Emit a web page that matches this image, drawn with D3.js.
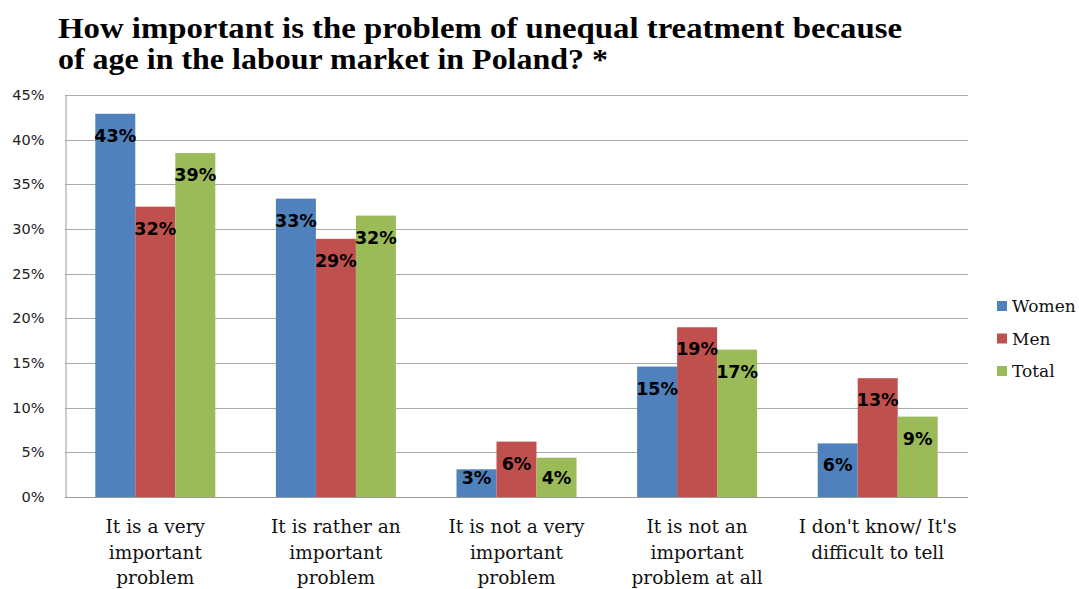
<!DOCTYPE html>
<html>
<head>
<meta charset="utf-8">
<script src="https://cdn.jsdelivr.net/npm/d3@7"></script>
<style>
  html, body { margin: 0; padding: 0; background: #ffffff; }
  svg { display: block; }
</style>
</head>
<body>
<svg id="chart" width="1079" height="589"></svg>
<script>
// ---- data ----
const categories = [
  ["It is a very", "important", "problem"],
  ["It is rather an", "important", "problem"],
  ["It is not a very", "important", "problem"],
  ["It is not an", "important", "problem at all"],
  ["I don't know/ It's", "difficult to tell"]
];
const seriesNames = ["Women", "Men", "Total"];
const women = [42.9, 33.4, 3.1, 14.6, 6.0];
const men   = [32.5, 28.9, 6.2, 19.0, 13.3];
const total = [38.5, 31.5, 4.4, 16.5, 9.0];
const labelsWomen = ["43%", "33%", "3%", "15%", "6%"];
const labelsMen   = ["32%", "29%", "6%", "19%", "13%"];
const labelsTotal = ["39%", "32%", "4%", "17%", "9%"];
const yTicks = [0, 5, 10, 15, 20, 25, 30, 35, 40, 45];
const colors = ["#4F81BD", "#C0504D", "#9BBB59"];
const titleLines = [
  "How important is the problem of unequal treatment because",
  "of age in the labour market in Poland? *"
];

const seriesValues = [women, men, total];
const seriesLabels = [labelsWomen, labelsMen, labelsTotal];

// ---- layout ----
const svg = d3.select("#chart");
const plot = { left: 65, right: 968, top: 95, bottom: 497 };

const x0 = d3.scaleBand()
  .domain(d3.range(categories.length))
  .range([plot.left, plot.right])
  .paddingInner(0.3355)
  .paddingOuter(0.16775);
const x1 = d3.scaleBand()
  .domain(d3.range(seriesNames.length))
  .range([0, x0.bandwidth()]);
const y = d3.scaleLinear().domain([0, 45]).range([plot.bottom, plot.top]);

// gridlines
svg.append("g")
  .selectAll("line")
  .data(yTicks.filter(d => d > 0))
  .join("line")
  .attr("x1", plot.left).attr("x2", plot.right)
  .attr("y1", d => Math.round(y(d)) + 0.5).attr("y2", d => Math.round(y(d)) + 0.5)
  .attr("stroke", "#acacac").attr("stroke-width", 1);

// y axis
const yAxis = d3.axisLeft(y).tickValues(yTicks).tickSize(0).tickPadding(21)
  .tickFormat(d => d + "%");
const gy = svg.append("g").attr("transform", `translate(${plot.left + 0.5},0)`).call(yAxis);
gy.select(".domain").attr("stroke", "#9a9a9a");
gy.selectAll("text")
  .attr("font-family", "'DejaVu Sans', Verdana, sans-serif")
  .attr("font-size", "14.5px")
  .attr("fill", "#222");

// bars
const groups = svg.append("g")
  .selectAll("g")
  .data(categories.map((c, i) => i))
  .join("g")
  .attr("transform", i => `translate(${x0(i)},0)`);

groups.selectAll("rect")
  .data(i => seriesValues.map((s, k) => ({ k, v: s[i], label: seriesLabels[k][i] })))
  .join("rect")
  .attr("x", d => x1(d.k))
  .attr("width", x1.bandwidth())
  .attr("y", d => y(d.v))
  .attr("height", d => plot.bottom - y(d.v))
  .attr("fill", d => colors[d.k]);

groups.selectAll("text")
  .data(i => seriesValues.map((s, k) => ({ k, v: s[i], label: seriesLabels[k][i] })))
  .join("text")
  .attr("x", d => x1(d.k) + x1.bandwidth() / 2)
  .attr("y", d => Math.min(y(d.v) + 22, plot.bottom - 19) + 6)
  .attr("text-anchor", "middle")
  .attr("font-family", "'DejaVu Sans', Verdana, sans-serif")
  .attr("font-weight", "bold")
  .attr("font-size", "17.5px")
  .attr("fill", "#000")
  .text(d => d.label);

// x axis line
svg.append("line")
  .attr("x1", plot.left).attr("x2", plot.right)
  .attr("y1", plot.bottom + 0.5).attr("y2", plot.bottom + 0.5)
  .attr("stroke", "#9a9a9a");

// category labels
const catG = svg.append("g");
categories.forEach((lines, i) => {
  const t = catG.append("text")
    .attr("text-anchor", "middle")
    .attr("font-family", "'DejaVu Serif', serif")
    .attr("font-size", "18.5px")
    .attr("fill", "#111");
  lines.forEach((ln, j) => {
    t.append("tspan")
      .attr("x", x0(i) + x0.bandwidth() / 2)
      .attr("y", 533 + j * 25.5)
      .text(ln);
  });
});

// title
const titleWidths = [844, 550];
titleLines.forEach((ln, j) => {
  svg.append("text")
    .attr("x", 58)
    .attr("y", 38 + j * 31)
    .attr("font-family", "'Liberation Serif', 'Times New Roman', serif")
    .attr("font-weight", "bold")
    .attr("font-size", "29px")
    .attr("fill", "#000")
    .attr("textLength", titleWidths[j])
    .attr("lengthAdjust", "spacingAndGlyphs")
    .text(ln);
});

// legend
const leg = svg.append("g");
seriesNames.forEach((name, k) => {
  const yy = 306 + k * 32.5;
  leg.append("rect")
    .attr("x", 997).attr("y", yy - 5)
    .attr("width", 10).attr("height", 10)
    .attr("fill", colors[k]);
  leg.append("text")
    .attr("x", 1012).attr("y", yy + 6)
    .attr("font-family", "'DejaVu Serif', serif")
    .attr("font-size", "17px")
    .attr("fill", "#111")
    .text(name);
});
</script>
</body>
</html>
